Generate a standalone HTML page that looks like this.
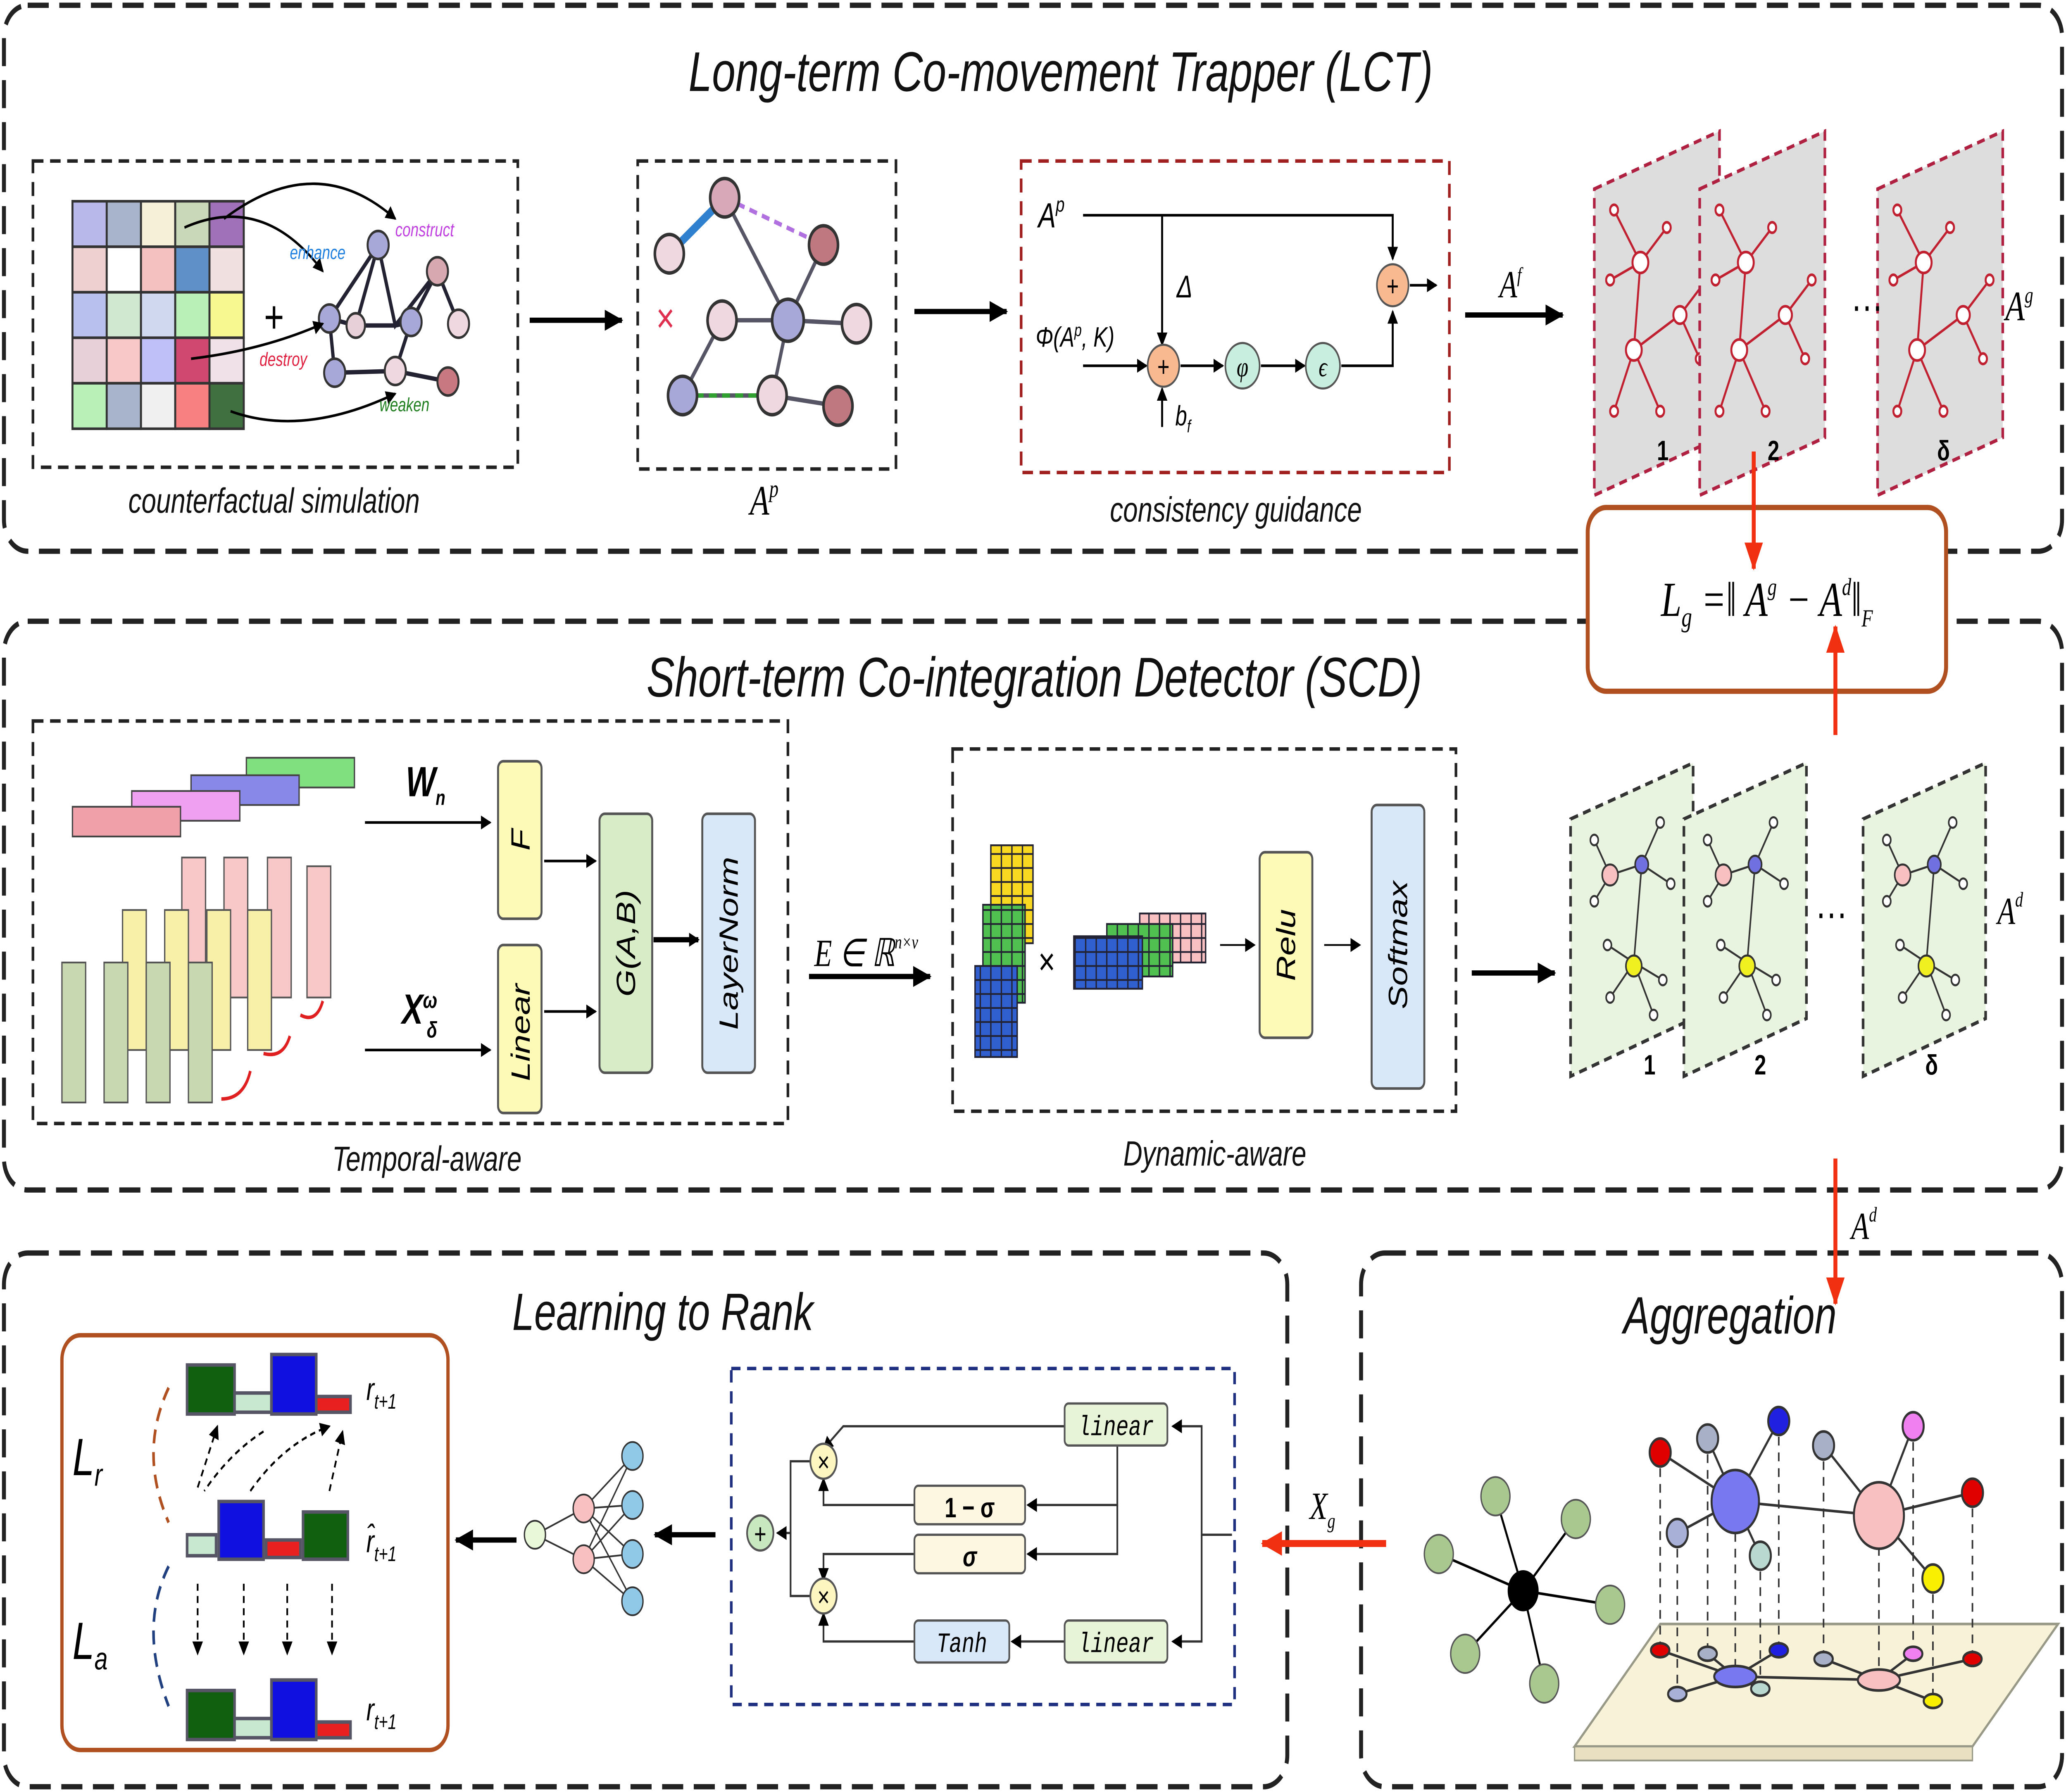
<!DOCTYPE html>
<html><head><meta charset="utf-8"><style>
html,body{margin:0;padding:0;background:#fff;width:100vw;height:100vh;overflow:hidden;}
svg{display:block;width:100vw;height:100vh;}
text{font-family:"Liberation Sans",sans-serif;}
.t{font-family:"Liberation Mono","DejaVu Sans Mono",monospace;font-style:italic;}
.m{font-family:"Liberation Serif",serif;font-style:italic;}
</style></head><body>
<svg viewBox="0 0 1568 1024" preserveAspectRatio="none" xmlns="http://www.w3.org/2000/svg">
<defs>
<marker id="ab" markerWidth="8" markerHeight="8" refX="7" refY="4" orient="auto" markerUnits="userSpaceOnUse"><path d="M0,0 L8,4 L0,8 z" fill="#000"/></marker>
<marker id="abig" markerWidth="14" markerHeight="12" refX="13" refY="6" orient="auto" markerUnits="userSpaceOnUse"><path d="M0,0 L14,6 L0,12 z" fill="#000"/></marker>
<marker id="ar" markerWidth="16" markerHeight="14" refX="15" refY="7" orient="auto" markerUnits="userSpaceOnUse"><path d="M0,0 L16,7 L0,14 z" fill="#f03010"/></marker>
</defs>
<rect width="1568" height="1024" fill="#fff"/>
<g fill="none" stroke="#222" stroke-width="3" stroke-dasharray="16,8">
<rect x="3" y="3" width="1562" height="312" rx="18"/>
<rect x="3" y="355" width="1562" height="325" rx="18"/>
<rect x="3" y="716" width="974" height="305" rx="18"/>
<rect x="1033" y="716" width="532" height="305" rx="18"/>
</g>
<g class="t" fill="#111" text-anchor="middle">
<text x="805" y="52" font-size="32">Long-term Co-movement Trapper (LCT)</text>
<text x="785" y="398" font-size="32">Short-term Co-integration Detector (SCD)</text>
<text x="503" y="760" font-size="30">Learning to Rank</text>
<text x="1313" y="762" font-size="30">Aggregation</text>
<text x="208" y="293" font-size="20">counterfactual simulation</text>
<text x="938" y="298" font-size="20">consistency guidance</text>
<text x="324" y="669" font-size="20">Temporal-aware</text>
<text x="922" y="666" font-size="20">Dynamic-aware</text>
</g>

<rect x="25" y="92" width="368" height="175" fill="none" stroke="#222" stroke-width="2" stroke-dasharray="8,5"/>
<g stroke="#333" stroke-width="1.5">
<rect x="55" y="115" width="26" height="26" fill="#b8b8ea"/><rect x="81" y="115" width="26" height="26" fill="#a8b4cc"/><rect x="107" y="115" width="26" height="26" fill="#f6f0d8"/><rect x="133" y="115" width="26" height="26" fill="#c8d8b8"/><rect x="159" y="115" width="26" height="26" fill="#a070b8"/>
<rect x="55" y="141" width="26" height="26" fill="#eed0d0"/><rect x="81" y="141" width="26" height="26" fill="#fff"/><rect x="107" y="141" width="26" height="26" fill="#f4c0c0"/><rect x="133" y="141" width="26" height="26" fill="#6090c8"/><rect x="159" y="141" width="26" height="26" fill="#f0e0e0"/>
<rect x="55" y="167" width="26" height="26" fill="#b8c0ee"/><rect x="81" y="167" width="26" height="26" fill="#d0e8d0"/><rect x="107" y="167" width="26" height="26" fill="#d0d8f0"/><rect x="133" y="167" width="26" height="26" fill="#b8f0b8"/><rect x="159" y="167" width="26" height="26" fill="#f8f890"/>
<rect x="55" y="193" width="26" height="26" fill="#e8d0d8"/><rect x="81" y="193" width="26" height="26" fill="#f8c8c8"/><rect x="107" y="193" width="26" height="26" fill="#c0c0f8"/><rect x="133" y="193" width="26" height="26" fill="#d04870"/><rect x="159" y="193" width="26" height="26" fill="#f0e0e8"/>
<rect x="55" y="219" width="26" height="26" fill="#b8f0b8"/><rect x="81" y="219" width="26" height="26" fill="#a8b4cc"/><rect x="107" y="219" width="26" height="26" fill="#f0f0f0"/><rect x="133" y="219" width="26" height="26" fill="#f88080"/><rect x="159" y="219" width="26" height="26" fill="#407040"/>
</g>
<text x="208" y="190" font-size="26" text-anchor="middle">+</text>
<g stroke="#223" stroke-width="2.5" fill="none">
<path d="M254,213 L250,182 L287,140 L300,186 L332,155 L348,185 M250,182 L270,186 L300,186 L312,184 L300,212 L254,213 M287,140 L270,186 M300,212 L340,218 M332,155 L312,184"/>
</g>
<g stroke="#333" stroke-width="1.5">
<circle cx="287" cy="140" r="8" fill="#a8a8d8"/><circle cx="332" cy="155" r="8" fill="#d8a8b0"/><circle cx="250" cy="182" r="8" fill="#a8a8d8"/><circle cx="270" cy="186" r="7" fill="#e8d0d8"/><circle cx="312" cy="184" r="8" fill="#a8a8d8"/><circle cx="348" cy="185" r="8" fill="#f0d8e0"/><circle cx="254" cy="213" r="8" fill="#a8a8d8"/><circle cx="300" cy="212" r="8" fill="#f0d8e0"/><circle cx="340" cy="218" r="8" fill="#c87880"/>
</g>
<g stroke="#000" stroke-width="1.5" fill="none">
<path d="M140,130 Q200,110 245,155" marker-end="url(#ab)"/>
<path d="M170,125 Q240,85 300,125" marker-end="url(#ab)"/>
<path d="M145,205 Q200,200 245,185" marker-end="url(#ab)"/>
<path d="M175,235 Q230,250 300,225" marker-end="url(#ab)"/>
</g>
<g class="t" font-size="11">
<text x="220" y="148" fill="#2080e0">enhance</text><text x="300" y="135" fill="#c040e0">construct</text><text x="197" y="209" fill="#e02040">destroy</text><text x="288" y="235" fill="#208020">weaken</text>
</g>
<line x1="402" y1="183" x2="472" y2="183" stroke="#000" stroke-width="3" marker-end="url(#abig)"/>

<rect x="484" y="92" width="196" height="176" fill="none" stroke="#222" stroke-width="2" stroke-dasharray="8,5"/>
<g stroke-width="2.5" fill="none">
<line x1="508" y1="145" x2="550" y2="113" stroke="#3080d0" stroke-width="5"/>
<line x1="550" y1="113" x2="625" y2="140" stroke="#b070e0" stroke-dasharray="6,4"/>
<path d="M550,113 L598,183 L586,226 L518,226 L548,183 M625,140 L598,183 M598,183 L650,185 M586,226 L636,232" stroke="#556"/>
<line x1="518" y1="226" x2="586" y2="226" stroke="#30a030" stroke-dasharray="6,4"/>
<line x1="548" y1="183" x2="598" y2="183" stroke="#556"/>
</g>
<text x="498" y="190" fill="#e03050" font-size="24">×</text>
<g stroke="#333" stroke-width="2">
<circle cx="550" cy="113" r="11" fill="#d8a8b8"/><circle cx="508" cy="145" r="11" fill="#f0d8e0"/><circle cx="625" cy="140" r="11" fill="#c07880"/><circle cx="548" cy="183" r="11" fill="#f0d8e0"/><circle cx="598" cy="183" r="12" fill="#a8a8d8"/><circle cx="650" cy="185" r="11" fill="#f0d8e0"/><circle cx="518" cy="226" r="11" fill="#a8a8d8"/><circle cx="586" cy="226" r="11" fill="#f0d8e0"/><circle cx="636" cy="232" r="11" fill="#c07880"/>
</g>
<text x="580" y="294" class="m" font-size="24" text-anchor="middle">A<tspan font-size="14" dy="-10">p</tspan></text>
<line x1="694" y1="178" x2="764" y2="178" stroke="#000" stroke-width="3" marker-end="url(#abig)"/>

<rect x="775" y="92" width="325" height="178" fill="none" stroke="#a02020" stroke-width="2" stroke-dasharray="8,5"/>
<g class="m" font-size="20"><text x="788" y="130">A<tspan font-size="12" dy="-9">p</tspan></text>
<text x="786" y="198" font-size="16">Φ(A<tspan font-size="10" dy="-6">p</tspan><tspan dy="6">, K)</tspan></text>
<text x="893" y="170" font-size="18">Δ</text><text x="892" y="243" font-size="16">b<tspan font-size="10" dy="4">f</tspan></text></g>
<g stroke="#000" stroke-width="1.5" fill="none">
<path d="M822,123 L1057,123 L1057,148" marker-end="url(#ab)"/>
<path d="M882,123 L882,197" marker-end="url(#ab)"/>
<path d="M822,209 L870,209" marker-end="url(#ab)"/>
<path d="M882,244 L882,222" marker-end="url(#ab)"/>
<path d="M896,209 L928,209" marker-end="url(#ab)"/>
<path d="M957,209 L990,209" marker-end="url(#ab)"/>
<path d="M1018,209 L1057,209 L1057,178" marker-end="url(#ab)"/>
<path d="M1070,163 L1090,163" marker-end="url(#ab)"/>
</g>
<g stroke="#555" stroke-width="1.2">
<circle cx="883" cy="209" r="12" fill="#f8b890"/><circle cx="943" cy="209" r="13" fill="#c8eee0"/><circle cx="1004" cy="209" r="13" fill="#c8eee0"/><circle cx="1057" cy="163" r="12" fill="#f8b890"/>
</g>
<g text-anchor="middle" font-size="16"><text x="883" y="215">+</text><text x="1057" y="169">+</text><text x="943" y="215" class="m">φ</text><text x="1004" y="215" class="m">ϵ</text></g>
<line x1="1112" y1="180" x2="1186" y2="180" stroke="#000" stroke-width="3" marker-end="url(#abig)"/>
<text x="1138" y="170" class="m" font-size="22">A<tspan font-size="12" dy="-9">f</tspan></text>

<g id="gp">
<polygon points="1210,108 1305,75 1305,250 1210,283" fill="#ddd" stroke="#b02040" stroke-width="2" stroke-dasharray="6,4"/>
<g stroke="#c02030" stroke-width="1.5" fill="#fff">
<path d="M1245,150 L1240,200 M1245,150 L1225,120 M1245,150 L1265,130 M1245,150 L1222,160 M1240,200 L1275,180 M1240,200 L1225,235 M1240,200 L1260,235 M1275,180 L1295,160 M1275,180 L1290,205" fill="none"/>
<circle cx="1245" cy="150" r="6"/><circle cx="1240" cy="200" r="6"/><circle cx="1275" cy="180" r="5"/><circle cx="1225" cy="120" r="3"/><circle cx="1265" cy="130" r="3"/><circle cx="1222" cy="160" r="3"/><circle cx="1225" cy="235" r="3"/><circle cx="1260" cy="235" r="3"/><circle cx="1295" cy="160" r="3"/><circle cx="1290" cy="205" r="3"/>
</g></g>
<use href="#gp" x="80"/>
<use href="#gp" x="215"/>
<text x="1405" y="183" font-size="24">···</text>
<text x="1522" y="183" class="m" font-size="24">A<tspan font-size="13" dy="-10">g</tspan></text>
<g font-size="16" font-weight="bold" font-family="Liberation Serif,serif" text-anchor="middle"><text x="1262" y="263">1</text><text x="1346" y="263">2</text><text x="1475" y="263">δ</text></g>

<rect x="1205" y="290" width="272" height="105" rx="14" fill="#fff" stroke="#b05020" stroke-width="3"/>
<text x="1341" y="352" class="m" font-size="28" text-anchor="middle">L<tspan font-size="16" dy="6">g</tspan><tspan dy="-6"> =‖ A</tspan><tspan font-size="14" dy="-12">g</tspan><tspan dy="12"> − A</tspan><tspan font-size="14" dy="-12">d</tspan><tspan dy="12">‖</tspan><tspan font-size="14" dy="6">F</tspan></text>
<line x1="1331" y1="258" x2="1331" y2="325" stroke="#f03010" stroke-width="3" marker-end="url(#ar)"/>
<line x1="1393" y1="420" x2="1393" y2="358" stroke="#f03010" stroke-width="3" marker-end="url(#ar)"/>

<rect x="25" y="412" width="573" height="230" fill="none" stroke="#222" stroke-width="2" stroke-dasharray="8,5"/>
<g stroke="#444" stroke-width="1">
<rect x="187" y="433" width="82" height="17" fill="#80e080"/>
<rect x="145" y="443" width="82" height="17" fill="#8888e8"/>
<rect x="100" y="452" width="82" height="17" fill="#f0a0f0"/>
<rect x="55" y="461" width="82" height="17" fill="#f0a0a8"/>
</g>
<g stroke="#555" stroke-width="1">
<rect x="138" y="490" width="18" height="80" fill="#f8c8c8"/><rect x="170" y="490" width="18" height="80" fill="#f8c8c8"/><rect x="203" y="490" width="18" height="80" fill="#f8c8c8"/><rect x="233" y="495" width="18" height="75" fill="#f8c8c8"/>
<rect x="93" y="520" width="18" height="80" fill="#f8f0a8"/><rect x="125" y="520" width="18" height="80" fill="#f8f0a8"/><rect x="157" y="520" width="18" height="80" fill="#f8f0a8"/><rect x="188" y="520" width="18" height="80" fill="#f8f0a8"/>
<rect x="47" y="550" width="18" height="80" fill="#c8d8b0"/><rect x="79" y="550" width="18" height="80" fill="#c8d8b0"/><rect x="111" y="550" width="18" height="80" fill="#c8d8b0"/><rect x="143" y="550" width="18" height="80" fill="#c8d8b0"/>
</g>
<g stroke="#e02020" stroke-width="2" fill="none"><path d="M245,572 Q240,585 228,580"/><path d="M220,592 Q215,605 200,602"/><path d="M190,612 Q185,628 168,628"/></g>
<g class="m" font-size="24"><text x="308" y="455" font-weight="bold">W<tspan font-size="12" dy="5">n</tspan></text><text x="305" y="585" font-weight="bold">X<tspan font-size="13" dy="-9">ω</tspan><tspan font-size="13" dx="-8" dy="17">δ</tspan></text></g>
<g stroke="#000" stroke-width="1.5"><line x1="277" y1="470" x2="372" y2="470" marker-end="url(#ab)"/><line x1="277" y1="600" x2="372" y2="600" marker-end="url(#ab)"/>
<line x1="413" y1="492" x2="452" y2="492" marker-end="url(#ab)"/><line x1="413" y1="578" x2="452" y2="578" marker-end="url(#ab)"/></g>
<line x1="496" y1="537" x2="530" y2="537" stroke="#000" stroke-width="3" marker-end="url(#ab)"/>
<g stroke="#555" stroke-width="1.5">
<rect x="378" y="435" width="33" height="90" rx="4" fill="#fdfab8"/><rect x="378" y="540" width="33" height="96" rx="4" fill="#fdfab8"/>
<rect x="455" y="465" width="40" height="148" rx="4" fill="#d8ecc8"/><rect x="533" y="465" width="40" height="148" rx="4" fill="#d8e8f8"/>
</g>
<g class="t" font-size="20" text-anchor="middle">
<text transform="translate(402,480) rotate(-90)">F</text><text transform="translate(402,590) rotate(-90)">Linear</text>
<text transform="translate(482,539) rotate(-90)">G(A,B)</text><text transform="translate(560,539) rotate(-90)">LayerNorm</text>
</g>
<text x="618" y="552" class="m" font-size="22">E ∈ ℝ<tspan font-size="11" dy="-10">n×v</tspan></text>
<line x1="614" y1="558" x2="706" y2="558" stroke="#000" stroke-width="3" marker-end="url(#abig)"/>

<rect x="723" y="428" width="382" height="207" fill="none" stroke="#222" stroke-width="2" stroke-dasharray="8,5"/>
<defs><pattern id="gr" width="8" height="8" patternUnits="userSpaceOnUse"><rect width="8" height="8" fill="none" stroke="#223" stroke-width="1"/></pattern></defs>
<g stroke="#223">
<rect x="752" y="483" width="32" height="56" fill="#f8d820"/><rect x="752" y="483" width="32" height="56" fill="url(#gr)"/>
<rect x="746" y="517" width="32" height="56" fill="#50c050"/><rect x="746" y="517" width="32" height="56" fill="url(#gr)"/>
<rect x="740" y="552" width="32" height="52" fill="#3060d0"/><rect x="740" y="552" width="32" height="52" fill="url(#gr)"/>
<rect x="865" y="522" width="50" height="28" fill="#f8c0c0"/><rect x="865" y="522" width="50" height="28" fill="url(#gr)"/>
<rect x="840" y="528" width="50" height="30" fill="#50c050"/><rect x="840" y="528" width="50" height="30" fill="url(#gr)"/>
<rect x="815" y="535" width="52" height="30" fill="#3060d0"/><rect x="815" y="535" width="52" height="30" fill="url(#gr)"/>
</g>
<text x="788" y="557" font-size="22">×</text>
<g stroke="#000" stroke-width="1"><line x1="926" y1="540" x2="952" y2="540" marker-end="url(#ab)"/><line x1="1005" y1="540" x2="1032" y2="540" marker-end="url(#ab)"/></g>
<rect x="956" y="487" width="40" height="106" rx="4" fill="#fdfab8" stroke="#555" stroke-width="1.5"/>
<rect x="1041" y="460" width="40" height="162" rx="4" fill="#d8e8f8" stroke="#555" stroke-width="1.5"/>
<g class="t" font-size="20" text-anchor="middle"><text transform="translate(983,540) rotate(-90)">Relu</text><text transform="translate(1068,540) rotate(-90)">Softmax</text></g>
<line x1="1117" y1="556" x2="1180" y2="556" stroke="#000" stroke-width="3" marker-end="url(#abig)"/>

<g id="gn">
<polygon points="1192,468 1285,436 1285,582 1192,615" fill="#e8f4e0" stroke="#333" stroke-width="2" stroke-dasharray="6,4"/>
<g stroke="#333" stroke-width="1.2" fill="#fff">
<path d="M1222,500 L1246,494 L1240,550 M1246,494 L1260,470 M1246,494 L1268,505 M1222,500 L1210,480 M1222,500 L1210,515 M1240,550 L1222,570 M1240,550 L1255,580 M1240,550 L1262,560 M1240,550 L1220,540" fill="none"/>
<circle cx="1222" cy="500" r="6" fill="#f8c0c0"/><circle cx="1246" cy="494" r="5" fill="#7070e0"/><circle cx="1240" cy="552" r="6" fill="#f0f020"/>
<circle cx="1260" cy="470" r="3"/><circle cx="1268" cy="505" r="3"/><circle cx="1210" cy="480" r="3"/><circle cx="1210" cy="515" r="3"/><circle cx="1222" cy="570" r="3"/><circle cx="1255" cy="580" r="3"/><circle cx="1262" cy="560" r="3"/><circle cx="1220" cy="540" r="3"/>
</g></g>
<use href="#gn" x="86"/>
<use href="#gn" x="222"/>
<text x="1378" y="530" font-size="24">···</text>
<text x="1516" y="528" class="m" font-size="22">A<tspan font-size="12" dy="-10">d</tspan></text>
<g font-size="16" font-weight="bold" font-family="Liberation Serif,serif" text-anchor="middle"><text x="1252" y="614">1</text><text x="1336" y="614">2</text><text x="1466" y="614">δ</text></g>
<line x1="1393" y1="662" x2="1393" y2="745" stroke="#f03010" stroke-width="3" marker-end="url(#ar)"/>
<text x="1405" y="708" class="m" font-size="22">A<tspan font-size="12" dy="-10">d</tspan></text>

<rect x="47" y="763" width="293" height="237" rx="14" fill="#fff" stroke="#b05020" stroke-width="2.5"/>
<g class="m" font-size="30"><text x="55" y="843">L<tspan font-size="18" dy="6">r</tspan></text><text x="55" y="948">L<tspan font-size="18" dy="6">a</tspan></text></g>
<path d="M128,793 Q105,830 128,870" fill="none" stroke="#b05020" stroke-width="2" stroke-dasharray="8,5"/>
<path d="M128,895 Q105,930 128,975" fill="none" stroke="#204080" stroke-width="2" stroke-dasharray="8,5"/>
<g id="bars" stroke="#556" stroke-width="2">
<rect x="142" y="780" width="36" height="28" fill="#106010"/><rect x="178" y="796" width="28" height="11" fill="#c8e8d0"/><rect x="206" y="774" width="34" height="34" fill="#1010e0"/><rect x="240" y="798" width="26" height="9" fill="#e82020"/>
</g>
<g stroke="#556" stroke-width="2">
<rect x="142" y="877" width="22" height="12" fill="#c8e8d0"/><rect x="166" y="858" width="34" height="33" fill="#1010e0"/><rect x="202" y="880" width="26" height="10" fill="#e82020"/><rect x="230" y="864" width="34" height="27" fill="#106010"/>
</g>
<use href="#bars" y="186"/>
<g class="m" font-size="18"><text x="278" y="800">r<tspan font-size="12" dy="5">t+1</tspan></text><text x="278" y="887">r̂<tspan font-size="12" dy="5">t+1</tspan></text><text x="278" y="983">r<tspan font-size="12" dy="5">t+1</tspan></text></g>
<g stroke="#000" stroke-width="1.3" stroke-dasharray="4,3" fill="none">
<path d="M150,850 L165,815" marker-end="url(#ab)"/><path d="M190,852 Q215,825 250,815" marker-end="url(#ab)"/><path d="M200,818 Q175,830 155,852"/><path d="M250,852 L260,818" marker-end="url(#ab)"/>
<line x1="150" y1="905" x2="150" y2="945" marker-end="url(#ab)"/><line x1="185" y1="905" x2="185" y2="945" marker-end="url(#ab)"/><line x1="218" y1="905" x2="218" y2="945" marker-end="url(#ab)"/><line x1="252" y1="905" x2="252" y2="945" marker-end="url(#ab)"/>
</g>
<line x1="392" y1="880" x2="346" y2="880" stroke="#000" stroke-width="3" marker-end="url(#abig)"/>
<g stroke="#333" stroke-width="1">
<path d="M406,877 L443,862 M406,877 L443,891 M443,862 L480,832 M443,862 L480,860 M443,862 L480,888 M443,862 L480,915 M443,891 L480,832 M443,891 L480,860 M443,891 L480,888 M443,891 L480,915"/>
<circle cx="406" cy="877" r="8" fill="#e8f8d8"/><circle cx="443" cy="862" r="8" fill="#f8c0c0"/><circle cx="443" cy="891" r="8" fill="#f8c0c0"/>
<circle cx="480" cy="832" r="8" fill="#90c8e8"/><circle cx="480" cy="860" r="8" fill="#90c8e8"/><circle cx="480" cy="888" r="8" fill="#90c8e8"/><circle cx="480" cy="915" r="8" fill="#90c8e8"/>
</g>
<line x1="543" y1="877" x2="497" y2="877" stroke="#000" stroke-width="3" marker-end="url(#abig)"/>

<rect x="555" y="782" width="382" height="192" fill="none" stroke="#203080" stroke-width="2" stroke-dasharray="7,5"/>
<g stroke="#333" stroke-width="1.3" fill="none">
<path d="M935,877 L912,877 L912,815 L890,815" marker-end="url(#ab)"/>
<path d="M912,877 L912,938 L890,938" marker-end="url(#ab)"/>
<path d="M808,815 L640,815 L625,828" marker-end="url(#ab)"/>
<path d="M848,825 L848,860 L780,860" marker-end="url(#ab)"/>
<path d="M848,860 L848,888 L780,888" marker-end="url(#ab)"/>
<path d="M694,860 L625,860 L625,845" marker-end="url(#ab)"/>
<path d="M694,888 L625,888 L625,903" marker-end="url(#ab)"/>
<path d="M808,938 L768,938" marker-end="url(#ab)"/>
<path d="M694,938 L625,938 L625,922" marker-end="url(#ab)"/>
<path d="M615,835 L600,835 L600,912 L615,912"/>
<path d="M600,876 L590,876" marker-end="url(#ab)"/>
</g>
<g stroke="#555" stroke-width="1.3">
<circle cx="625" cy="835" r="10" fill="#fdf6c0"/><circle cx="625" cy="912" r="10" fill="#fdf6c0"/><circle cx="577" cy="876" r="10" fill="#c8e8c0"/>
<rect x="808" y="802" width="78" height="24" rx="3" fill="#e8f4d8"/><rect x="808" y="926" width="78" height="24" rx="3" fill="#e8f4d8"/>
<rect x="694" y="849" width="84" height="22" rx="3" fill="#fdf6e0"/><rect x="694" y="877" width="84" height="22" rx="3" fill="#fdf6e0"/><rect x="694" y="926" width="72" height="24" rx="3" fill="#d8e8f8"/>
</g>
<g text-anchor="middle" font-size="16"><text x="625" y="841">×</text><text x="625" y="918">×</text><text x="577" y="882">+</text>
<text x="847" y="820" class="t">linear</text><text x="847" y="944" class="t">linear</text><text x="730" y="944" class="t">Tanh</text>
<text x="736" y="867" font-weight="bold" font-family="Liberation Serif,serif">1 − σ</text><text x="736" y="895" font-weight="bold" font-family="Liberation Serif,serif" font-style="italic">σ</text></g>
<line x1="1052" y1="882" x2="958" y2="882" stroke="#f03010" stroke-width="4" marker-end="url(#ar)"/>
<text x="994" y="868" class="m" font-size="22">X<tspan font-size="12" dy="5">g</tspan></text>

<g stroke="#000" stroke-width="1.5">
<line x1="1156" y1="909" x2="1135" y2="855"/><line x1="1156" y1="909" x2="1196" y2="868"/><line x1="1156" y1="909" x2="1222" y2="917"/><line x1="1156" y1="909" x2="1172" y2="962"/><line x1="1156" y1="909" x2="1112" y2="945"/><line x1="1156" y1="909" x2="1092" y2="888"/>
<g fill="#a8c890" stroke="#555" stroke-width="1"><circle cx="1135" cy="855" r="11"/><circle cx="1196" cy="868" r="11"/><circle cx="1222" cy="917" r="11"/><circle cx="1172" cy="962" r="11"/><circle cx="1112" cy="945" r="11"/><circle cx="1092" cy="888" r="11"/></g>
<circle cx="1156" cy="909" r="11" fill="#000"/>
</g>
<polygon points="1195,998 1260,928 1562,928 1497,998" fill="#f8f2d8" stroke="#998" stroke-width="1.5"/>
<polygon points="1195,998 1497,998 1497,1006 1195,1006" fill="#e8e0c0" stroke="#998"/>
<g stroke="#333" stroke-width="1.2" stroke-dasharray="5,4">
<line x1="1260" y1="830" x2="1260" y2="943"/><line x1="1296" y1="822" x2="1296" y2="945"/><line x1="1273" y1="876" x2="1273" y2="968"/><line x1="1317" y1="858" x2="1317" y2="958"/><line x1="1350" y1="812" x2="1350" y2="943"/><line x1="1336" y1="889" x2="1336" y2="965"/><line x1="1384" y1="826" x2="1384" y2="948"/><line x1="1426" y1="866" x2="1426" y2="960"/><line x1="1452" y1="815" x2="1452" y2="945"/><line x1="1467" y1="902" x2="1467" y2="972"/><line x1="1497" y1="853" x2="1497" y2="948"/>
</g>
<g stroke="#333" stroke-width="1.5">
<path d="M1260,830 L1317,858 L1296,822 M1317,858 L1350,812 M1317,858 L1273,876 M1317,858 L1336,889 M1317,858 L1426,866 L1384,826 M1426,866 L1452,815 M1426,866 L1497,853 M1426,866 L1467,902" fill="none"/>
<path d="M1260,943 L1317,958 L1296,945 M1317,958 L1350,943 M1317,958 L1273,968 M1317,958 L1336,965 M1317,958 L1426,960 L1384,948 M1426,960 L1452,945 M1426,960 L1497,948 M1426,960 L1467,972" fill="none"/>
<circle cx="1317" cy="858" r="18" fill="#7878f0"/><circle cx="1426" cy="866" r="19" fill="#f8c0c0"/>
<circle cx="1260" cy="830" r="8" fill="#e00000"/><circle cx="1296" cy="822" r="8" fill="#a8b0c8"/><circle cx="1350" cy="812" r="8" fill="#2020e0"/><circle cx="1273" cy="876" r="8" fill="#a8b0d8"/><circle cx="1336" cy="889" r="8" fill="#b8d8d0"/><circle cx="1384" cy="826" r="8" fill="#a8b0c8"/><circle cx="1452" cy="815" r="8" fill="#f080f0"/><circle cx="1497" cy="853" r="8" fill="#e00000"/><circle cx="1467" cy="902" r="8" fill="#f8f000"/>
<ellipse cx="1317" cy="958" rx="16" ry="6" fill="#7878f0"/><ellipse cx="1426" cy="960" rx="16" ry="6" fill="#f8c0c0"/>
<ellipse cx="1260" cy="943" rx="7" ry="4" fill="#e00000"/><ellipse cx="1296" cy="945" rx="7" ry="4" fill="#a8b0c8"/><ellipse cx="1350" cy="943" rx="7" ry="4" fill="#2020e0"/><ellipse cx="1273" cy="968" rx="7" ry="4" fill="#a8b0d8"/><ellipse cx="1336" cy="965" rx="7" ry="4" fill="#b8d8d0"/><ellipse cx="1384" cy="948" rx="7" ry="4" fill="#a8b0c8"/><ellipse cx="1452" cy="945" rx="7" ry="4" fill="#f080f0"/><ellipse cx="1497" cy="948" rx="7" ry="4" fill="#e00000"/><ellipse cx="1467" cy="972" rx="7" ry="4" fill="#f8f000"/>
</g>
</svg>
</body></html>
